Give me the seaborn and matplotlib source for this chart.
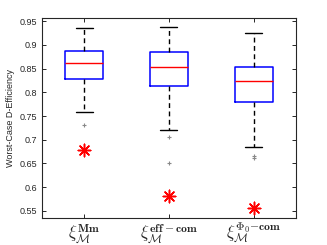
import matplotlib
matplotlib.use("Agg")
import matplotlib.pyplot as plt
import seaborn as sns
import pandas as pd

# summary statistics
methods = ["Mm", "eff-com", "Phi0-com"]
tick_labels = [r"$\xi_{\mathcal{M}}^{\mathbf{Mm}}$",
               r"$\xi_{\mathcal{M}}^{\mathbf{eff-com}}$",
               r"$\xi_{\mathcal{M}}^{\Phi_0\mathbf{-com}}$"]
q1 = [0.8275, 0.814, 0.779]
median = [0.863, 0.8535, 0.823]
q3 = [0.888, 0.8845, 0.853]
whisker_low = [0.758, 0.720, 0.685]
whisker_high = [0.9365, 0.938, 0.926]
outliers = [[0.731], [0.705, 0.650], [0.666, 0.662]]
star_values = [0.678, 0.581, 0.555]

sns.set_style("ticks")
plt.rcParams["font.family"] = ["Liberation Sans", "DejaVu Sans"]
plt.rcParams["mathtext.fontset"] = "cm"

fig = plt.figure(figsize=(3.27, 2.45), dpi=100)
ax = fig.add_axes([0.128, 0.109, 0.777, 0.8175])

stats = []
for i, m in enumerate(methods):
    stats.append({"label": m, "q1": q1[i], "med": median[i], "q3": q3[i],
                  "whislo": whisker_low[i], "whishi": whisker_high[i], "fliers": []})

ax.bxp(stats, positions=[1, 2, 3], widths=0.45, showfliers=False,
       boxprops=dict(color="blue", linewidth=1.1),
       medianprops=dict(color="red", linewidth=1.0),
       whiskerprops=dict(color="black", linewidth=1.0, linestyle=(0, (3.5, 2.5))),
       capprops=dict(color="black", linewidth=1.0), capwidths=0.2)

out_df = pd.DataFrame({"x": [i + 1 for i, o in enumerate(outliers) for _ in o],
                       "y": [v for o in outliers for v in o]})
sns.scatterplot(data=out_df, x="x", y="y", marker="+", color="#888888",
                s=10, linewidth=0.8, ax=ax, zorder=3)

star_df = pd.DataFrame({"x": [1, 2, 3], "y": star_values})
sns.scatterplot(data=star_df, x="x", y="y", marker=(8, 2, 0), color="red",
                edgecolor="red", s=80, linewidth=1.1, ax=ax, zorder=4)

ax.set_xlim(0.5, 3.5)
ax.set_ylim(0.534, 0.957)
ax.set_yticks([0.55, 0.6, 0.65, 0.7, 0.75, 0.8, 0.85, 0.9, 0.95])
ax.set_yticklabels(["0.55", "0.6", "0.65", "0.7", "0.75", "0.8", "0.85", "0.9", "0.95"])
ax.set_xticks([1, 2, 3])
ax.set_xticklabels(tick_labels, fontsize=12, va="baseline")
ax.set_xlabel("")
ax.set_ylabel("Worst-Case D-Efficiency", fontsize=6.5, color="#262626", labelpad=3)
ax.tick_params(axis="y", labelsize=6.5, colors="#262626", direction="in", length=3,
               width=0.7, right=True)
ax.tick_params(axis="x", direction="in", length=3, width=0.7, top=True, pad=14.5)
for s in ax.spines.values():
    s.set_visible(True)
    s.set_color("#262626")
    s.set_linewidth(0.8)

fig.savefig("out.png", dpi=100)
